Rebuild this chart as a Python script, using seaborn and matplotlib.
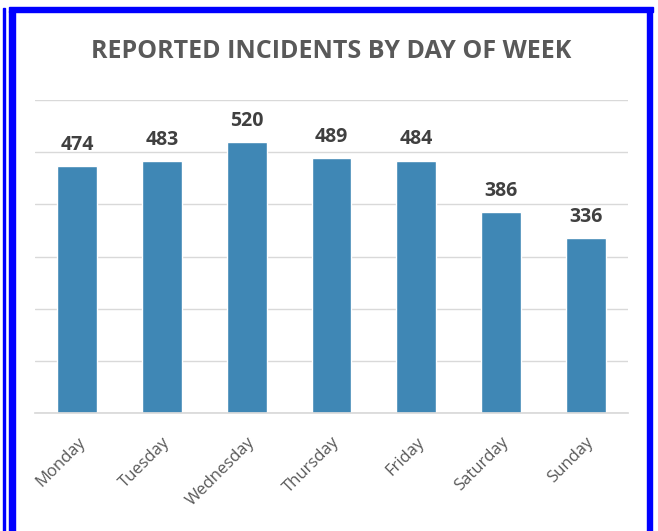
import matplotlib
matplotlib.use("Agg")
import matplotlib.pyplot as plt
import seaborn as sns
import pandas as pd
from matplotlib.patches import Rectangle

days = ["Monday", "Tuesday", "Wednesday", "Thursday", "Friday", "Saturday", "Sunday"]
incidents = [474, 483, 520, 489, 484, 386, 336]
title = "REPORTED INCIDENTS BY DAY OF WEEK"

df = pd.DataFrame({"day": days, "incidents": incidents})

sns.set_theme(style="white")
plt.rcParams["font.family"] = ["Open Sans", "DejaVu Sans"]

fig = plt.figure(figsize=(6.58, 5.31), dpi=100)
ax = fig.add_axes([35 / 658, 1 - 413 / 531, 593 / 658, 313 / 531])

sns.barplot(data=df, x="day", y="incidents", color="#3F87B5", saturation=1,
            width=0.47, ax=ax)
ax.set_ylim(0, 600)
ax.set_yticks(range(0, 601, 100))
ax.yaxis.grid(True, color="#D9D9D9", linewidth=1)
ax.set_axisbelow(True)
ax.tick_params(axis="y", left=False, labelleft=False)
ax.tick_params(axis="x", bottom=False, pad=9)
for s in ["top", "right", "left"]:
    ax.spines[s].set_visible(False)
ax.spines["bottom"].set_color("#D9D9D9")
ax.set_xlabel("")
ax.set_ylabel("")
plt.setp(ax.get_xticklabels(), rotation=45, ha="right", rotation_mode="anchor",
         color="#595959", fontsize=12)

for c in ax.containers:
    ax.bar_label(c, padding=8, fontsize=14, fontweight="bold", color="#404040")

fig.text(331 / 658, 1 - 51 / 531, title, ha="center", va="center", fontsize=18,
         fontweight="bold", color="#595959")

# blue frame
fig.patches.append(Rectangle((3 / 658, 0), 2 / 658, 1 - 8 / 531, transform=fig.transFigure,
                             color="#0000FF", zorder=10))
fig.patches.append(Rectangle((9 / 658, -0.01), 6 / 658, 1 - 6 / 531, transform=fig.transFigure,
                             color="#0000FF", zorder=10))
fig.patches.append(Rectangle((9 / 658, 1 - 12 / 531), 644 / 658, 5 / 531, transform=fig.transFigure,
                             color="#0000FF", zorder=10))
fig.patches.append(Rectangle((647 / 658, -0.01), 5 / 658, 1 - 7 / 531, transform=fig.transFigure,
                             color="#0000FF", zorder=10))

fig.savefig("out.png", dpi=100)
